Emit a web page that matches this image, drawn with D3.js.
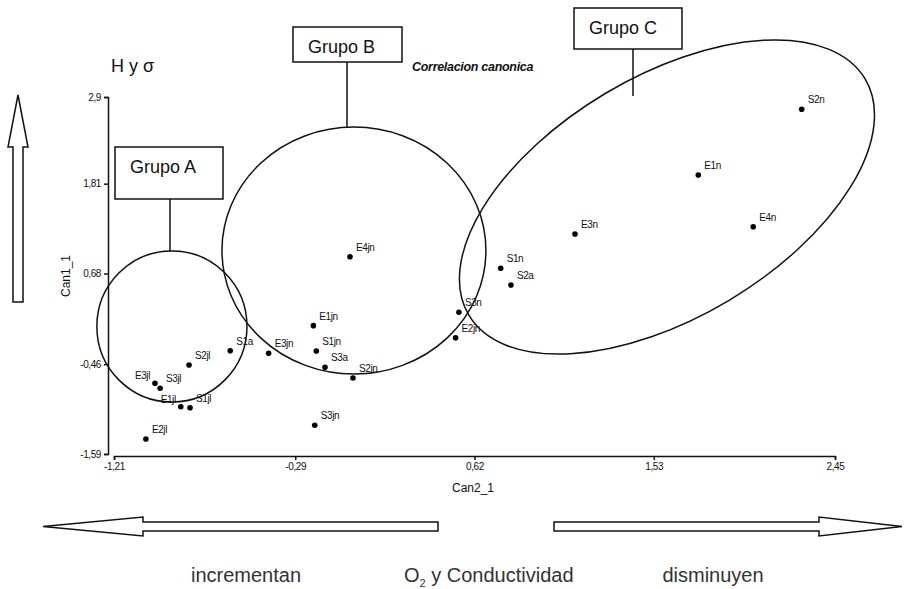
<!DOCTYPE html>
<html>
<head>
<meta charset="utf-8">
<script src="https://cdn.jsdelivr.net/npm/d3@7"></script>
<style>
  body { margin: 0; background: #fff; }
  svg { display: block; font-family: "Liberation Sans", Arial, sans-serif; }
</style>
</head>
<body>
<div id="chart"></div>
<script>
// Data (canonical scores)
var pointLabels = ["S2n", "E1n", "E4n", "E3n", "S1n", "S2a", "S3n", "E2jn", "E4jn", "E1jn", "S1jn",
  "S3a", "S2jn", "S3jn", "E3jn", "S1a", "S2jl", "S3jl", "E3jl", "S1jl", "E1jl", "E2jl"];
var can2Values = [2.281, 1.756, 2.035, 1.130, 0.753, 0.805, 0.541, 0.524, -0.012, -0.198, -0.183,
  -0.139, 0.003, -0.191, -0.425, -0.620, -0.829, -0.976, -1.002, -0.824, -0.871, -1.048];
var can1Values = [2.745, 1.919, 1.269, 1.177, 0.746, 0.536, 0.192, -0.127, 0.891, 0.024, -0.295,
  -0.500, -0.634, -1.229, -0.324, -0.291, -0.471, -0.764, -0.701, -1.008, -0.995, -1.401];

var xTickValues = [-1.21, -0.29, 0.62, 1.53, 2.45];
var xTickLabels = ["-1,21", "-0,29", "0,62", "1,53", "2,45"];
var yTickValues = [-1.59, -0.46, 0.68, 1.81, 2.9];
var yTickLabels = ["-1,59", "-0,46", "0,68", "1,81", "2,9"];

// Groups: ellipse centre and semi-axes in canonical units, rotation in degrees
var groupNames = ["Grupo A", "Grupo B", "Grupo C"];
var groupCentersX = [-0.916, 0.008, 1.597];
var groupCentersY = [0.014, 0.969, 1.642];
var groupRadiiX = [0.381, 0.670, 1.171];
var groupRadiiY = [0.950, 1.553, 1.516];
var groupAngles = [0, 0, 30.8];

var bottomCaptions = ["incrementan", "disminuyen"];

let width = 915;
let height = 589;

var svg = d3.select("#chart")
  .append("svg")
  .attr("width", width)
  .attr("height", height);

// Scales
let x = d3.scaleLinear().domain([-1.21, 2.45]).range([114, 835]);
let y = d3.scaleLinear().domain([-1.59, 2.9]).range([454, 97]);

// Axes
let xAxis = d3.axisBottom(x)
  .tickValues(xTickValues)
  .tickFormat((d, i) => xTickLabels[i])
  .tickSize(4)
  .tickSizeOuter(4)
  .tickPadding(3);

let yAxis = d3.axisLeft(y)
  .tickValues(yTickValues)
  .tickFormat((d, i) => yTickLabels[i])
  .tickSize(4)
  .tickSizeOuter(4)
  .tickPadding(3);

let gx = svg.append("g")
  .attr("transform", "translate(0,456)")
  .call(xAxis);

let gy = svg.append("g")
  .attr("transform", "translate(108,0)")
  .call(yAxis);

[gx, gy].forEach(function (g) {
  g.selectAll("path, line").style("stroke", "#111").style("stroke-width", 1.5);
  g.selectAll("text")
    .style("font-size", "10px")
    .style("font-family", "'Liberation Sans', Arial, sans-serif")
    .style("letter-spacing", "-0.4px")
    .style("fill", "#111");
});

// Axis titles
svg.append("text")
  .attr("x", 473)
  .attr("y", 492)
  .attr("text-anchor", "middle")
  .style("font-size", "12px")
  .style("fill", "#111")
  .text("Can2_1");

svg.append("text")
  .attr("transform", "translate(70,276) rotate(-90)")
  .attr("text-anchor", "middle")
  .style("font-size", "12px")
  .style("fill", "#111")
  .text("Can1_1");

// Group ellipses
groupNames.forEach(function (name, i) {
  let cx = x(groupCentersX[i]);
  let cy = y(groupCentersY[i]);
  svg.append("ellipse")
    .attr("cx", cx)
    .attr("cy", cy)
    .attr("rx", x(groupRadiiX[i]) - x(0))
    .attr("ry", y(0) - y(groupRadiiY[i]))
    .attr("transform", "rotate(" + (-groupAngles[i]) + "," + cx + "," + cy + ")")
    .style("fill", "none")
    .style("stroke", "#111")
    .style("stroke-width", 1.5);
});

// Group label boxes with connector lines
let boxes = [
  { x: 115, y: 147, w: 108, h: 52, lineX: 170, lineEnd: 251 },
  { x: 293, y: 27, w: 109, h: 35, lineX: 347, lineEnd: 127 },
  { x: 574, y: 8, w: 108, h: 41, lineX: 633, lineEnd: 96 }
];

boxes.forEach(function (b, i) {
  svg.append("line")
    .attr("x1", b.lineX).attr("x2", b.lineX)
    .attr("y1", b.y + b.h).attr("y2", b.lineEnd)
    .style("stroke", "#111")
    .style("stroke-width", 1.5);
  svg.append("rect")
    .attr("x", b.x).attr("y", b.y)
    .attr("width", b.w).attr("height", b.h)
    .style("fill", "#fff")
    .style("stroke", "#111")
    .style("stroke-width", 1.5);
  svg.append("text")
    .attr("x", b.x + 15)
    .attr("y", b.y + 26)
    .style("font-size", "18px")
    .style("fill", "#111")
    .text(groupNames[i]);
});

// Points and their labels (a label that would hit an earlier one goes to the left)
let placed = [];
function hits(a, b) {
  return a.x < b.x + b.width && b.x < a.x + a.width && a.y < b.y + b.height && b.y < a.y + a.height;
}

can2Values.forEach(function (v, i) {
  let px = x(v), py = y(can1Values[i]);
  svg.append("circle")
    .attr("cx", px)
    .attr("cy", py)
    .attr("r", 2.8)
    .style("fill", "#000");

  let t = svg.append("text")
    .attr("x", px + 6)
    .attr("y", py - 6)
    .style("font-size", "10px")
    .style("letter-spacing", "-0.4px")
    .style("fill", "#111")
    .text(pointLabels[i]);

  let bb = t.node().getBBox();
  if (placed.some(p => hits(bb, p))) {
    t.attr("x", px - 5).attr("y", py - 4).attr("text-anchor", "end");
    bb = t.node().getBBox();
  }
  placed.push(bb);
});

// Titles
svg.append("text")
  .attr("x", 111)
  .attr("y", 72)
  .style("font-size", "18px")
  .style("fill", "#111")
  .text("H y σ");

svg.append("text")
  .attr("x", 412)
  .attr("y", 71)
  .style("font-size", "12.5px")
  .style("font-weight", "bold")
  .style("font-style", "italic")
  .style("letter-spacing", "-0.3px")
  .style("fill", "#111")
  .text("Correlacion canonica");

// Outline arrows
let line = d3.line();

function drawArrow(points) {
  svg.append("path")
    .attr("d", line(points) + "Z")
    .style("fill", "#fff")
    .style("stroke", "#111")
    .style("stroke-width", 1.5)
    .style("stroke-linejoin", "miter");
}

// vertical arrow (up)
drawArrow([[18, 95], [28, 147], [23, 147], [23, 302], [13, 302], [13, 147], [8, 147]]);
// left arrow
drawArrow([[43, 526.5], [143, 517], [143, 522], [438, 522], [438, 531], [143, 531], [143, 536]]);
// right arrow
drawArrow([[902, 526.5], [819, 517], [819, 522], [554, 522], [554, 531], [819, 531], [819, 536]]);

// Bottom captions
svg.append("text")
  .attr("x", 246)
  .attr("y", 582)
  .attr("text-anchor", "middle")
  .style("font-size", "20px")
  .style("fill", "#333")
  .text(bottomCaptions[0]);

svg.append("text")
  .attr("x", 713)
  .attr("y", 582)
  .attr("text-anchor", "middle")
  .style("font-size", "20px")
  .style("fill", "#333")
  .text(bottomCaptions[1]);

let mid = svg.append("text")
  .attr("x", 404)
  .attr("y", 582)
  .style("font-size", "20px")
  .style("fill", "#333");
mid.append("tspan").text("O");
mid.append("tspan").attr("dy", 5).style("font-size", "11px").text("2");
mid.append("tspan").attr("dy", -5).text(" y Conductividad");
</script>
</body>
</html>
